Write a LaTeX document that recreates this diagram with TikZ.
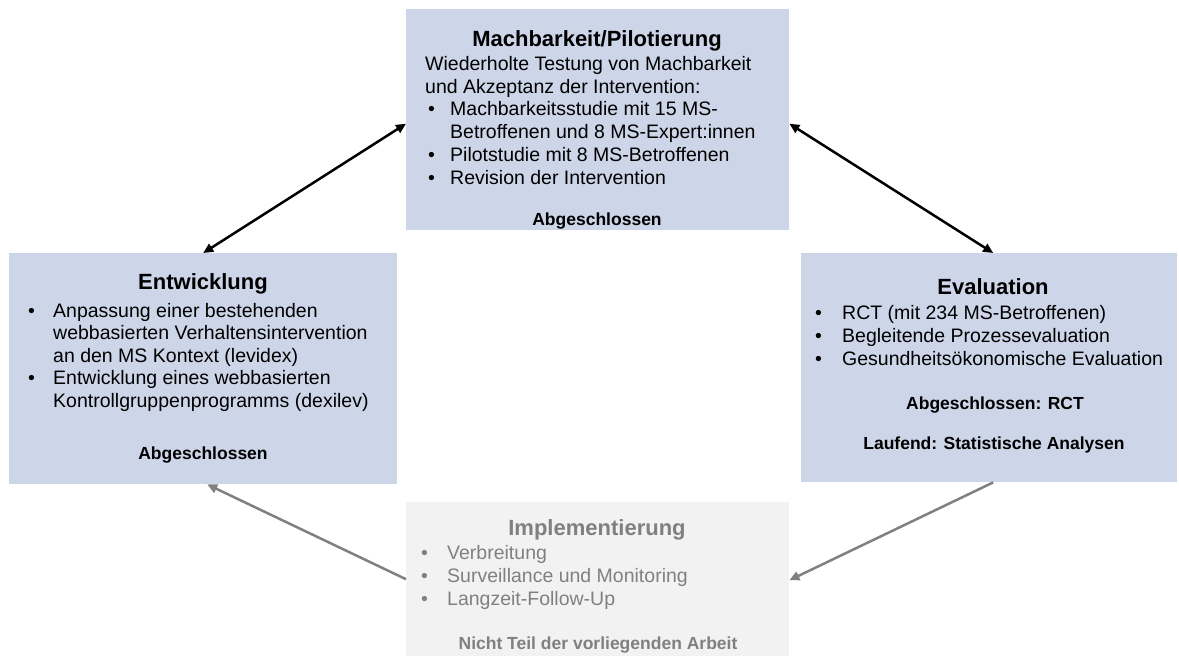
\documentclass[tikz,border=0pt]{standalone}
\usepackage{fontspec}
\setmainfont{Liberation Sans}
\usetikzlibrary{arrows.meta,calc}

\definecolor{phaseblue}{RGB}{205,213,232}
\definecolor{phasegray}{RGB}{242,242,242}
\definecolor{textgray}{RGB}{128,128,128}
\definecolor{arrowgray}{RGB}{128,128,128}

\newcommand\bodyfont{\fontsize{19.5}{22.5}\selectfont}
\newcommand\headfont{\fontsize{22}{26}\selectfont\bfseries}
\newcommand\statusfont{\fontsize{17.5}{20}\selectfont\bfseries}
\newcommand\itemdot[1]{\makebox[#1][l]{•}}

\tikzset{
  phase/.style={fill=phaseblue, draw=none, inner sep=0pt, anchor=north west},
  phaseoff/.style={phase, fill=phasegray},
  head/.style={anchor=base, inner sep=0pt, font=\headfont},
  bodyline/.style={anchor=base west, inner sep=0pt, font=\bodyfont},
  status/.style={anchor=base, inner sep=0pt, font=\statusfont},
  cycle/.style={line width=2.5pt, {Triangle[length=10pt,width=9pt]}-{Triangle[length=10pt,width=9pt]}},
  flow/.style={line width=2.5pt, arrowgray, -{Triangle[length=10pt,width=9pt]}},
}

\begin{document}
\begin{tikzpicture}[x=1pt,y=-1pt]
\useasboundingbox (0,0) rectangle (1179,657);

% phase boxes
\node[phase, minimum width=383pt, minimum height=221pt] (mach) at (406,9) {};
\node[phase, minimum width=388pt, minimum height=231pt] (entw) at (9,253) {};
\node[phase, minimum width=376pt, minimum height=229pt] (eval) at (801,253) {};
\node[phaseoff, minimum width=383pt, minimum height=154pt] (impl) at (406,502) {};

% Machbarkeit / Pilotierung
\node[head] (machhead) at (597,46) {Machbarkeit/Pilotierung};
\node[bodyline] (mach1) at (425,70) {Wiederholte Testung von Machbarkeit};
\node[bodyline] (mach2) at (425,93) {und Akzeptanz der Intervention:};
\node[bodyline] (mach3) at (428,115) {\itemdot{22pt}Machbarkeitsstudie mit 15 MS-};
\node[bodyline] (mach4) at (450,138) {Betroffenen und 8 MS-Expert:innen};
\node[bodyline] (mach5) at (428,161) {\itemdot{22pt}Pilotstudie mit 8 MS-Betroffenen};
\node[bodyline] (mach6) at (428,184) {\itemdot{22pt}Revision der Intervention};
\node[status] (machstat) at (597,225) {Abgeschlossen};

% Entwicklung
\node[head] (entwhead) at (203,289) {Entwicklung};
\node[bodyline] (entw1) at (28,317) {\itemdot{25pt}Anpassung einer bestehenden};
\node[bodyline] (entw2) at (53,339.5) {webbasierten Verhaltensintervention};
\node[bodyline] (entw3) at (53,362) {an den MS Kontext (levidex)};
\node[bodyline] (entw4) at (28,384.5) {\itemdot{25pt}Entwicklung eines webbasierten};
\node[bodyline] (entw5) at (53,407) {Kontrollgruppenprogramms (dexilev)};
\node[status] (entwstat) at (203,459) {Abgeschlossen};

% Evaluation
\node[head] (evalhead) at (993,294) {Evaluation};
\node[bodyline] (eval1) at (815,319) {\itemdot{27pt}RCT (mit 234 MS-Betroffenen)};
\node[bodyline] (eval2) at (815,342) {\itemdot{27pt}Begleitende Prozessevaluation};
\node[bodyline] (eval3) at (815,365) {\itemdot{27pt}Gesundheitsökonomische Evaluation};
\node[status] (evalstat1) at (995,409) {Abgeschlossen: RCT};
\node[status] (evalstat2) at (994,449) {Laufend: Statistische Analysen};

% Implementierung
\begin{scope}[textgray]
\node[head] (implhead) at (597,535) {Implementierung};
\node[bodyline] (impl1) at (421,559) {\itemdot{26pt}Verbreitung};
\node[bodyline] (impl2) at (421,582) {\itemdot{26pt}Surveillance und Monitoring};
\node[bodyline] (impl3) at (421,605) {\itemdot{26pt}Langzeit-Follow-Up};
\node[status] (implstat) at (598,649) {Nicht Teil der vorliegenden Arbeit};
\end{scope}

% connectors
\draw[cycle] ($(mach.west)+(0,4)$) -- (entw.north);
\draw[cycle] ($(mach.east)+(0,4)$) -- ($(eval.north)+(4,0)$);
\draw[flow] ($(eval.south)+(4,0)$) -- ($(impl.east)+(0,1)$);
\draw[flow] (impl.west) -- ($(entw.south)+(4,0)$);
\end{tikzpicture}
\end{document}
